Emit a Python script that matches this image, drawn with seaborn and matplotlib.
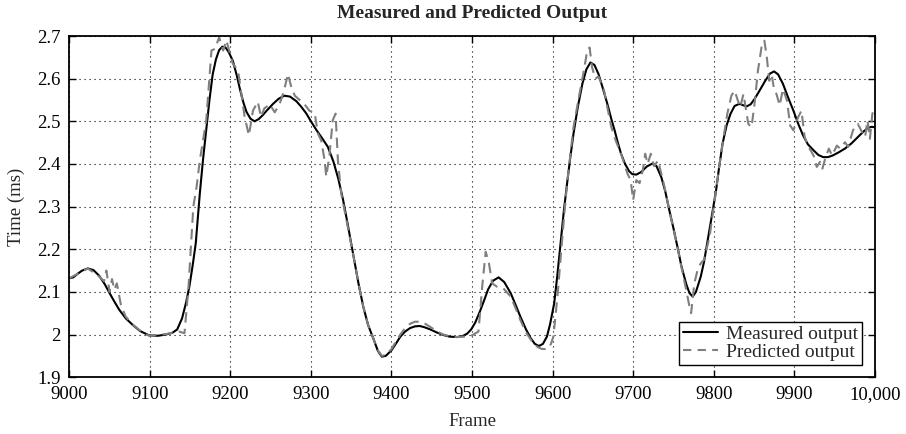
import matplotlib
matplotlib.use("Agg")
import matplotlib.pyplot as plt
import seaborn as sns
import pandas as pd

# ---- data ----
measured_frame = [9000, 9005, 9010, 9016, 9023, 9030, 9037, 9044, 9050, 9056, 9062, 9070, 9079, 9088,
                  9099, 9110, 9120, 9128, 9134, 9140, 9145, 9149, 9153, 9157, 9162, 9166, 9170, 9174,
                  9178, 9182, 9186, 9190, 9194, 9198, 9203, 9208, 9212, 9216, 9220, 9225, 9230, 9235,
                  9240, 9246, 9253, 9260, 9267, 9274, 9282, 9288, 9294, 9300, 9307, 9314, 9321, 9328,
                  9334, 9340, 9346, 9353, 9359, 9365, 9371, 9378, 9383, 9388, 9393, 9400, 9406, 9411,
                  9417, 9423, 9429, 9435, 9441, 9448, 9456, 9464, 9472, 9481, 9488, 9494, 9499, 9504,
                  9510, 9515, 9520, 9526, 9533, 9540, 9548, 9554, 9560, 9567, 9573, 9578, 9583, 9588,
                  9593, 9597, 9602, 9606, 9610, 9614, 9618, 9622, 9626, 9631, 9637, 9642, 9647, 9652,
                  9657, 9662, 9668, 9673, 9677, 9681, 9685, 9690, 9695, 9699, 9704, 9710, 9717, 9724,
                  9729, 9735, 9740, 9745, 9750, 9755, 9760, 9766, 9770, 9774, 9778, 9784, 9788, 9792,
                  9797, 9803, 9807, 9811, 9816, 9821, 9826, 9832, 9836, 9841, 9846, 9851, 9857, 9864,
                  9870, 9875, 9880, 9886, 9892, 9899, 9905, 9911, 9917, 9924, 9930, 9936, 9942, 9948,
                  9955, 9963, 9971, 9979, 9986, 9992, 9996, 10000]
measured_value = [2.132, 2.134, 2.142, 2.150, 2.155, 2.151, 2.138, 2.118, 2.097, 2.077, 2.058, 2.038, 2.022, 2.008,
                  1.998, 1.997, 2.000, 2.004, 2.012, 2.038, 2.075, 2.112, 2.160, 2.214, 2.330, 2.410, 2.480, 2.550,
                  2.610, 2.645, 2.667, 2.675, 2.673, 2.662, 2.642, 2.607, 2.574, 2.545, 2.522, 2.506, 2.500, 2.505,
                  2.514, 2.527, 2.541, 2.553, 2.560, 2.558, 2.547, 2.534, 2.519, 2.500, 2.479, 2.460, 2.440, 2.405,
                  2.365, 2.315, 2.255, 2.182, 2.120, 2.065, 2.022, 1.988, 1.962, 1.948, 1.950, 1.963, 1.980, 1.995,
                  2.007, 2.015, 2.019, 2.020, 2.017, 2.012, 2.005, 1.999, 1.995, 1.994, 1.996, 2.002, 2.012, 2.028,
                  2.055, 2.080, 2.106, 2.126, 2.134, 2.123, 2.097, 2.070, 2.042, 2.012, 1.991, 1.978, 1.973, 1.978,
                  1.995, 2.025, 2.073, 2.140, 2.214, 2.290, 2.354, 2.415, 2.471, 2.530, 2.588, 2.622, 2.638, 2.632,
                  2.611, 2.580, 2.541, 2.505, 2.479, 2.450, 2.424, 2.400, 2.383, 2.376, 2.375, 2.381, 2.394, 2.401,
                  2.395, 2.369, 2.335, 2.291, 2.250, 2.206, 2.160, 2.118, 2.097, 2.089, 2.100, 2.136, 2.170, 2.214,
                  2.270, 2.338, 2.395, 2.447, 2.490, 2.518, 2.536, 2.541, 2.538, 2.535, 2.540, 2.553, 2.572, 2.595,
                  2.612, 2.617, 2.610, 2.588, 2.558, 2.525, 2.494, 2.467, 2.446, 2.432, 2.421, 2.416, 2.416, 2.420,
                  2.427, 2.436, 2.448, 2.463, 2.476, 2.485, 2.487, 2.486]

predicted_frame = [9000, 9008, 9023, 9037, 9043, 9046, 9050, 9053, 9056, 9059, 9064, 9070, 9079, 9088, 9099,
                   9110, 9120, 9128, 9136, 9143, 9148, 9154, 9158, 9162, 9170, 9176.5, 9181, 9186, 9191,
                   9195, 9203, 9209.5, 9213.6, 9217.7, 9223, 9228, 9234, 9238, 9242, 9249, 9255, 9261,
                   9266, 9271.5, 9275.6, 9280, 9286, 9292, 9298, 9304.6, 9308.7, 9312.8, 9317, 9319, 9323,
                   9327, 9330.6, 9333.5, 9337.6, 9345, 9353, 9359, 9365, 9371, 9378, 9383, 9388, 9393,
                   9400, 9406, 9411, 9417, 9423, 9429, 9435, 9441, 9448, 9456, 9464, 9472, 9481, 9490,
                   9500, 9508, 9513, 9517, 9521, 9525, 9531, 9539, 9548, 9554, 9560, 9567, 9573, 9577,
                   9582, 9587, 9591, 9595, 9598, 9601, 9604, 9607, 9610, 9614, 9618, 9622, 9626, 9632,
                   9639, 9643, 9646, 9649, 9653, 9657, 9661, 9664, 9668, 9673, 9679, 9685, 9693, 9697,
                   9700, 9704, 9708, 9712, 9715, 9718, 9722, 9726, 9731, 9735, 9739, 9745, 9750, 9755,
                   9760, 9766, 9770, 9772, 9776, 9780, 9784, 9788, 9795, 9799, 9803, 9807, 9811, 9817,
                   9822, 9826, 9830, 9833, 9837, 9843, 9847, 9851, 9855, 9860, 9863, 9866, 9869, 9872,
                   9875, 9878, 9882, 9886, 9891, 9895, 9899, 9905, 9909, 9913, 9917, 9924, 9928, 9932,
                   9935, 9939, 9943, 9947, 9953, 9957, 9963, 9967, 9973, 9979, 9983, 9988, 9991, 9994,
                   9997, 10000]
predicted_value = [2.132, 2.140, 2.155, 2.136, 2.125, 2.150, 2.100, 2.130, 2.105, 2.120, 2.070, 2.042, 2.023, 2.009, 1.997,
                   1.999, 2.001, 2.004, 2.007, 2.003, 2.112, 2.300, 2.346, 2.408, 2.502, 2.666, 2.670, 2.697, 2.666,
                   2.690, 2.635, 2.619, 2.565, 2.510, 2.467, 2.525, 2.546, 2.510, 2.530, 2.540, 2.521, 2.540,
                   2.568, 2.611, 2.580, 2.560, 2.550, 2.540, 2.525, 2.520, 2.471, 2.455, 2.408, 2.370, 2.420,
                   2.502, 2.518, 2.408, 2.331, 2.260, 2.182, 2.120, 2.065, 2.022, 1.988, 1.963, 1.950, 1.952,
                   1.966, 1.985, 2.000, 2.015, 2.025, 2.030, 2.030, 2.026, 2.018, 2.008, 2.000, 1.996, 1.994, 1.995,
                   1.998, 2.007, 2.120, 2.194, 2.167, 2.120, 2.112, 2.108, 2.089, 2.062, 2.034, 2.005, 1.988, 1.978,
                   1.970, 1.966, 1.966, 1.968, 1.978, 1.995, 2.050, 2.110, 2.180, 2.270, 2.354, 2.420, 2.486, 2.550,
                   2.620, 2.666, 2.673, 2.627, 2.600, 2.605, 2.587, 2.572, 2.533, 2.486, 2.452, 2.424, 2.377, 2.362,
                   2.315, 2.362, 2.355, 2.385, 2.424, 2.400, 2.424, 2.395, 2.408, 2.377, 2.346, 2.290, 2.248, 2.206,
                   2.158, 2.104, 2.065, 2.050, 2.120, 2.151, 2.167, 2.175, 2.230, 2.285, 2.338, 2.395, 2.447, 2.518,
                   2.560, 2.572, 2.549, 2.533, 2.564, 2.494, 2.486, 2.545, 2.619, 2.681, 2.689, 2.650, 2.595, 2.610,
                   2.575, 2.564, 2.537, 2.576, 2.549, 2.490, 2.479, 2.510, 2.525, 2.463, 2.443, 2.420, 2.393, 2.405,
                   2.389, 2.416, 2.436, 2.420, 2.443, 2.436, 2.451, 2.440, 2.479, 2.494, 2.479, 2.463, 2.502, 2.459,
                   2.517, 2.533]

x_ticks = [9000, 9100, 9200, 9300, 9400, 9500, 9600, 9700, 9800, 9900, 10000]
x_tick_labels = ["9000", "9100", "9200", "9300", "9400", "9500", "9600", "9700", "9800", "9900", "10,000"]
y_ticks = [1.9, 2.0, 2.1, 2.2, 2.3, 2.4, 2.5, 2.6, 2.7]
y_tick_labels = ["1.9", "2", "2.1", "2.2", "2.3", "2.4", "2.5", "2.6", "2.7"]

title = "Measured and Predicted Output"
x_label = "Frame"
y_label = "Time (ms)"
series_names = ["Measured output", "Predicted output"]

# ---- plotting ----
sns.set_style("ticks")
plt.rcParams["font.family"] = ["Liberation Serif", "DejaVu Serif"]

fig = plt.figure(figsize=(9.06, 4.34), dpi=100)
ax = fig.add_axes([0.0765, 0.131, 0.889, 0.786])

df_m = pd.DataFrame({"frame": measured_frame, "value": measured_value})
df_p = pd.DataFrame({"frame": predicted_frame, "value": predicted_value})

sns.lineplot(data=df_m, x="frame", y="value", ax=ax, color="black", linewidth=1.5,
             label=series_names[0], sort=False)
sns.lineplot(data=df_p, x="frame", y="value", ax=ax, color="#7f7f7f", linewidth=1.5,
             label=series_names[1], sort=False)
ax.lines[0].set_solid_joinstyle("round")
ax.lines[1].set_linestyle((0, (5, 3)))
ax.lines[1].set_dash_joinstyle("round")

ax.set_xlim(9000, 10000)
ax.set_ylim(1.9, 2.7)
ax.set_xticks(x_ticks)
ax.set_xticklabels(x_tick_labels)
ax.set_yticks(y_ticks)
ax.set_yticklabels(y_tick_labels)
ax.tick_params(direction="in", top=True, right=True, length=5, width=1,
               labelsize=13.5, colors="black")
ax.tick_params(axis="x", pad=6.5)
ax.tick_params(axis="y", pad=6)

ax.grid(True, color="black", linestyle=(0, (1, 3.5)), linewidth=0.8)
for s in ax.spines.values():
    s.set_visible(True)
    s.set_linewidth(1.3)
    s.set_color("black")

ax.set_xlabel(x_label, fontsize=13.5, labelpad=7)
ax.set_ylabel(y_label, fontsize=13.5, labelpad=9)
ax.set_title(title, fontsize=14, fontweight="bold", pad=13)

leg = ax.legend(loc="lower right", fontsize=14, frameon=True, fancybox=False,
                edgecolor="black", framealpha=1, borderpad=0.2, labelspacing=0.0,
                handlelength=1.8, handletextpad=0.4, borderaxespad=0.65)
leg.get_frame().set_linewidth(1.0)
leg.get_lines()[1].set_linestyle((0, (4, 3)))

fig.savefig("out.png", dpi=100)
